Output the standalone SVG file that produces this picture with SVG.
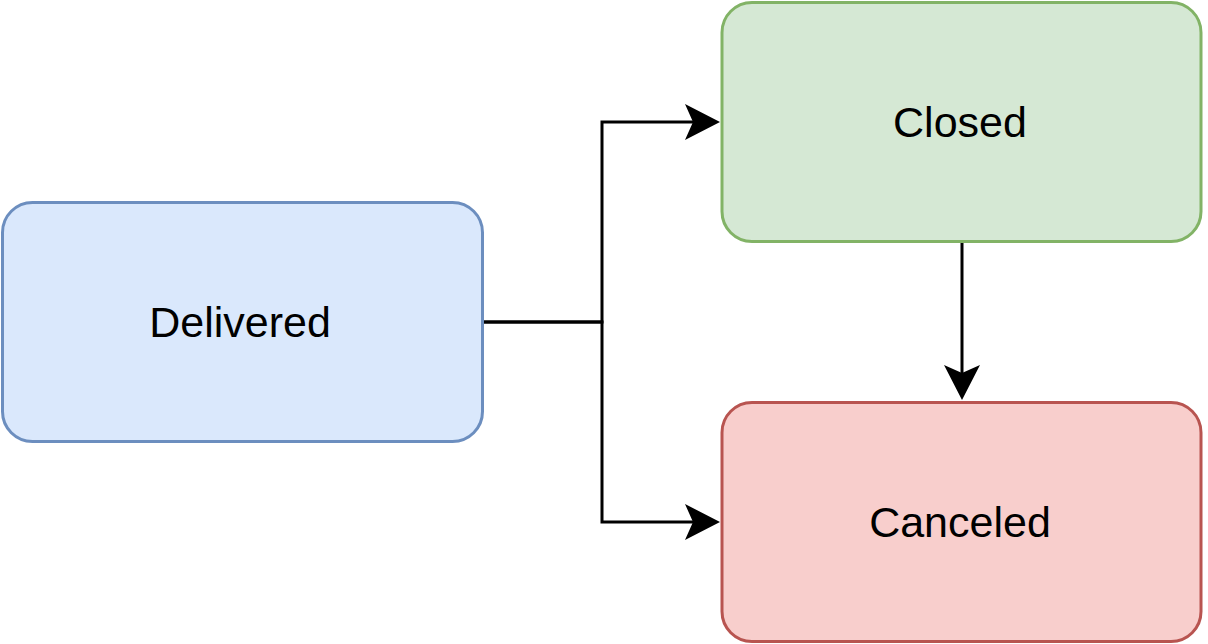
<svg xmlns="http://www.w3.org/2000/svg" width="1208" height="644" viewBox="0 0 1208 644">
  <style>
    .node rect { stroke-width: 3; }
    .label { font-family: "Liberation Sans", Arial, sans-serif; font-size: 43px; fill: #000; text-anchor: middle; dominant-baseline: central; }
    .edge { fill: none; stroke: #000; stroke-width: 3; }
  </style>
  <defs>
    <marker id="arrow" viewBox="0 0 36 36" markerWidth="36" markerHeight="36" markerUnits="userSpaceOnUse" refX="9" refY="18" orient="auto">
      <path d="M1,0 L36,18 L1,36 L9,18 Z" fill="#000"/>
    </marker>
  </defs>
  <rect width="1208" height="644" fill="#fff"/>
  <g id="connectors">
    <path class="edge" d="M484,322 H602 V122 H693" marker-end="url(#arrow)"/>
    <path class="edge" d="M484,322 H602 V522 H693" marker-end="url(#arrow)"/>
    <path class="edge" d="M962,242 V373" marker-end="url(#arrow)"/>
  </g>
  <g id="delivered" class="node">
    <rect x="2.5" y="202.5" width="480" height="239" rx="30" ry="30" fill="#dae8fc" stroke="#6c8ebf"/>
    <text class="label" x="240" y="322">Delivered</text>
  </g>
  <g id="closed" class="node">
    <rect x="722" y="2.5" width="479" height="239" rx="30" ry="30" fill="#d5e8d4" stroke="#82b366"/>
    <text class="label" x="960" y="122">Closed</text>
  </g>
  <g id="canceled" class="node">
    <rect x="722" y="402.5" width="479" height="239" rx="30" ry="30" fill="#f8cecc" stroke="#b85450"/>
    <text class="label" x="960" y="522">Canceled</text>
  </g>
</svg>
